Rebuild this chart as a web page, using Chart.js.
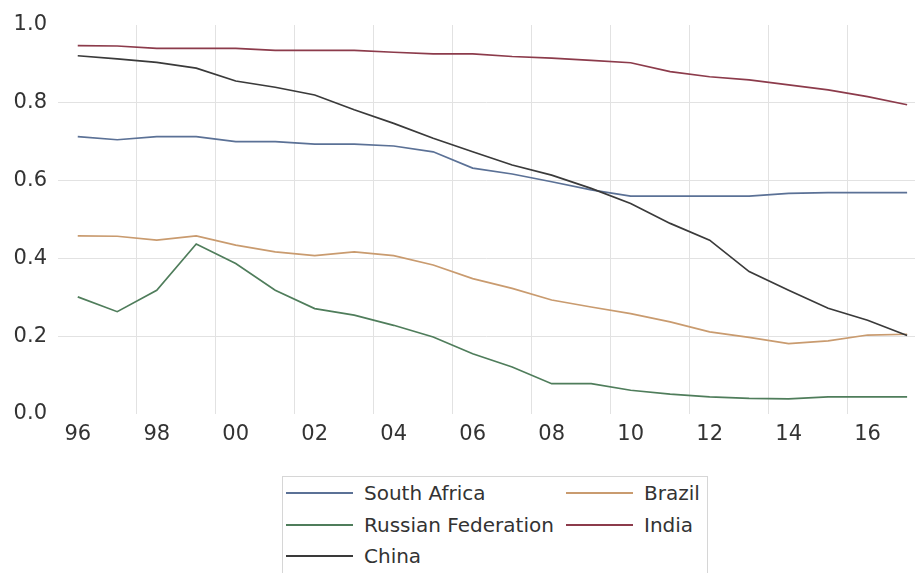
<!DOCTYPE html>
<html>
<head>
<meta charset="utf-8">
<script src="https://cdn.jsdelivr.net/npm/chart.js@4.4.1/dist/chart.umd.min.js"></script>
<style>
  html, body { margin: 0; padding: 0; background: #fff; overflow: hidden; }
  #wrap { position: relative; width: 915px; height: 573px; }
  #box { position: absolute; left: 0; top: 0; width: 915px; height: 455px; }
  #legend {
    position: absolute; left: 282px; top: 476px; width: 426px; height: 110px;
    border: 1px solid #d6d6d6; box-sizing: border-box;
    font-family: "DejaVu Sans", sans-serif; font-size: 20px; color: #333;
  }
  .item { position: absolute; height: 24px; line-height: 24px; white-space: nowrap; }
  .item span.ln { position: absolute; left: 0; top: 11px; width: 67px; height: 2px; }
  .item span.tx { position: absolute; left: 78px; top: 0; }
</style>
</head>
<body>
<div id="wrap">
  <div id="box"><canvas id="chart"></canvas></div>
  <div id="legend"></div>
</div>
<script>
// years 1996 - 2017
var years = ['96','97','98','99','00','01','02','03','04','05','06','07','08','09','10','11','12','13','14','15','16','17'];

var southAfrica = [0.713,0.705,0.713,0.713,0.700,0.700,0.694,0.694,0.689,0.674,0.632,0.617,0.597,0.576,0.560,0.560,0.560,0.560,0.567,0.569,0.569,0.569];
var brazil      = [0.458,0.457,0.447,0.458,0.434,0.417,0.407,0.417,0.407,0.383,0.348,0.323,0.293,0.275,0.258,0.237,0.211,0.197,0.181,0.188,0.203,0.205];
var russia      = [0.301,0.263,0.318,0.437,0.387,0.318,0.271,0.254,0.228,0.198,0.155,0.121,0.078,0.078,0.061,0.051,0.044,0.040,0.039,0.044,0.044,0.044];
var india       = [0.947,0.946,0.940,0.940,0.940,0.935,0.935,0.935,0.930,0.926,0.926,0.919,0.915,0.909,0.903,0.880,0.867,0.859,0.846,0.833,0.816,0.795];
var china       = [0.921,0.913,0.904,0.889,0.856,0.840,0.820,0.782,0.747,0.709,0.674,0.640,0.614,0.580,0.541,0.490,0.447,0.366,0.318,0.272,0.241,0.202];

var names  = ['South Africa','Brazil','Russian Federation','India','China'];
var series = [southAfrica, brazil, russia, india, china];
var colors = ['#5b7196','#c99b6f','#4f7d5b','#8c3b4b','#3a3a3a'];

var yTicks = [0, 0.2, 0.4, 0.6, 0.8, 1.0];

var datasets = series.map(function(vals, i){
    return {
        label: names[i],
        data: vals.map(function(v, j){ return {x: j, y: v}; }),
        borderColor: colors[i],
        backgroundColor: colors[i],
        borderWidth: 1.7,
        pointRadius: 0,
        fill: false,
        tension: 0
    };
});

// draw India / China on top like the original
datasets.reverse();

new Chart(document.getElementById('chart'), {
    type: 'line',
    data: { datasets: datasets },
    options: {
        responsive: true,
        maintainAspectRatio: false,
        animation: false,
        layout: { padding: { top: 25, right: 0, left: 0, bottom: 0 } },
        plugins: { legend: { display: false }, tooltip: { enabled: false } },
        scales: {
            x: {
                type: 'linear',
                min: -0.5,
                max: 21.2,
                afterBuildTicks: function(scale){
                    var t = [];
                    for (var v = -0.5; v < years.length - 1; v += 2) t.push({ value: v });
                    scale.ticks = t;
                },
                afterFit: function(scale){ scale.height = 41; },
                border: { display: false },
                grid: {
                    drawTicks: false,
                    color: function(ctx){ return ctx.tick && ctx.tick.value < 0 ? 'rgba(0,0,0,0)' : '#e2e2e2'; },
                    lineWidth: 1
                },
                ticks: {
                    autoSkip: false,
                    maxRotation: 0,
                    labelOffset: 19.75,
                    padding: 8,
                    color: '#333',
                    font: { family: 'DejaVu Sans', size: 21 },
                    callback: function(value){ return years[Math.round(value + 0.5)]; }
                }
            },
            y: {
                min: 0,
                max: 1,
                afterBuildTicks: function(scale){
                    scale.ticks = yTicks.map(function(v){ return { value: v }; });
                },
                afterFit: function(scale){ scale.width = 58; },
                border: { display: false },
                grid: {
                    drawTicks: false,
                    color: function(ctx){
                        var v = ctx.tick ? ctx.tick.value : 0;
                        return (v <= 0 || v >= 1) ? 'rgba(0,0,0,0)' : '#e2e2e2';
                    }
                },
                ticks: {
                    padding: 11,
                    color: '#333',
                    font: { family: 'DejaVu Sans', size: 21 },
                    callback: function(value){ return value.toFixed(1); }
                }
            }
        }
    }
});

// legend: two columns, filled row by row
var legend = document.getElementById('legend');
names.forEach(function(name, i){
    var col = i % 2, row = Math.floor(i / 2);
    var item = document.createElement('div');
    item.className = 'item';
    item.style.left = (col === 0 ? 3 : 283) + 'px';
    item.style.top = (4 + row * 31.5) + 'px';
    var ln = document.createElement('span');
    ln.className = 'ln';
    ln.style.background = colors[i];
    var tx = document.createElement('span');
    tx.className = 'tx';
    tx.textContent = name;
    item.appendChild(ln);
    item.appendChild(tx);
    legend.appendChild(item);
});
</script>
</body>
</html>
